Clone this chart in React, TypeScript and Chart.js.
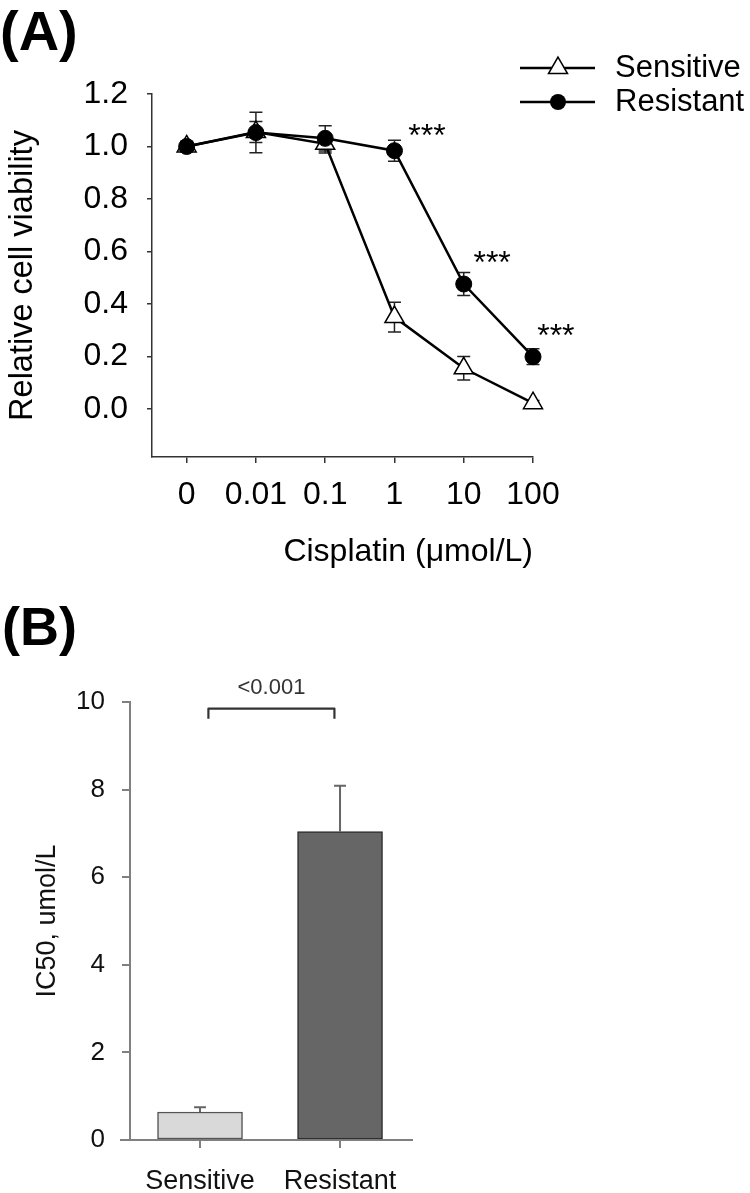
import React, { useEffect, useRef } from 'react';
import { Chart, registerables } from 'chart.js';

Chart.register(...registerables);

const FONT = '"Liberation Sans", Arial, Helvetica, sans-serif';

// ---------- Panel A data ----------
const doseLabels = ['0', '0.01', '0.1', '1', '10', '100'];
const doseIndex = [0, 1, 2, 3, 4, 5];
const sensitiveMean = [1.0, 1.055, 1.01, 0.35, 0.155, 0.022];
const sensitiveErr = [0.02, 0.04, 0.035, 0.057, 0.045, 0.01];
const resistantMean = [1.0, 1.053, 1.031, 0.984, 0.476, 0.199];
const resistantErr = [0.015, 0.077, 0.048, 0.04, 0.044, 0.03];
const viabilityTicks = [0, 0.2, 0.4, 0.6, 0.8, 1.0, 1.2];
const starX = [3.47, 4.41, 5.33];
const starY = [1.07, 0.587, 0.309];
const starText = '***';
const seriesNames = ['Sensitive', 'Resistant'];

// ---------- Panel B data ----------
const cellLines = ['Sensitive', 'Resistant'];
const ic50Mean = [0.64, 7.04];
const ic50Err = [0.11, 1.05];
const ic50Ticks = [0, 2, 4, 6, 8, 10];
const pValueText = '<0.001';
const bracketFrom = 0.06;
const bracketTo = 0.96;
const bracketLevel = 9.85;
const bracketDrop = 0.23;

function drawTriangle(ctx: any, cx: number, cy: number, r: number) {
  ctx.beginPath();
  ctx.moveTo(cx, cy - r);
  ctx.lineTo(cx + r * Math.sin((2 * Math.PI) / 3), cy - r * Math.cos((2 * Math.PI) / 3));
  ctx.lineTo(cx + r * Math.sin((4 * Math.PI) / 3), cy - r * Math.cos((4 * Math.PI) / 3));
  ctx.closePath();
  ctx.fillStyle = '#fff';
  ctx.fill();
  ctx.lineWidth = 1.5;
  ctx.strokeStyle = '#000';
  ctx.stroke();
}

function drawCircle(ctx: any, cx: number, cy: number, r: number) {
  ctx.beginPath();
  ctx.arc(cx, cy, r, 0, Math.PI * 2);
  ctx.fillStyle = '#000';
  ctx.fill();
}

const errorBarsA = {
  id: 'errorBarsA',
  beforeDatasetsDraw(chart: any) {
    const { ctx } = chart;
    const x = chart.scales.x;
    const y = chart.scales.y;
    ctx.save();
    ctx.strokeStyle = '#222';
    ctx.lineWidth = 1.5;
    const series: [number[], number[]][] = [
      [sensitiveMean, sensitiveErr],
      [resistantMean, resistantErr],
    ];
    series.forEach(([m, e]) => {
      doseIndex.forEach((d, i) => {
        const px = x.getPixelForValue(d);
        const top = y.getPixelForValue(m[i] + e[i]);
        const bot = y.getPixelForValue(m[i] - e[i]);
        ctx.beginPath();
        ctx.moveTo(px, top);
        ctx.lineTo(px, bot);
        ctx.moveTo(px - 6.5, top);
        ctx.lineTo(px + 6.5, top);
        ctx.moveTo(px - 6.5, bot);
        ctx.lineTo(px + 6.5, bot);
        ctx.stroke();
      });
    });
    ctx.restore();
  },
};

const annotationsA = {
  id: 'annotationsA',
  afterDraw(chart: any) {
    const { ctx } = chart;
    const x = chart.scales.x;
    const y = chart.scales.y;
    ctx.save();
    // significance stars
    ctx.fillStyle = '#000';
    ctx.font = `32px ${FONT}`;
    ctx.textAlign = 'center';
    ctx.textBaseline = 'alphabetic';
    starX.forEach((sx, i) => {
      ctx.fillText(starText, x.getPixelForValue(sx), y.getPixelForValue(starY[i]) + 18);
    });
    // legend
    const rows = [68, 102];
    rows.forEach((ry, i) => {
      ctx.beginPath();
      ctx.moveTo(520, ry);
      ctx.lineTo(595, ry);
      ctx.lineWidth = 2.5;
      ctx.strokeStyle = '#000';
      ctx.stroke();
      if (i === 0) drawTriangle(ctx, 558, ry, 11);
      else drawCircle(ctx, 558, ry, 8);
      ctx.fillStyle = '#000';
      ctx.font = `31px ${FONT}`;
      ctx.textAlign = 'left';
      ctx.textBaseline = 'middle';
      ctx.fillText(seriesNames[i], 615, ry);
    });
    // panel label
    ctx.font = `bold 56px ${FONT}`;
    ctx.textAlign = 'left';
    ctx.textBaseline = 'alphabetic';
    ctx.fillStyle = '#000';
    ctx.fillText('(A)', 0, 50);
    ctx.restore();
  },
};

const errorBarsB = {
  id: 'errorBarsB',
  afterDatasetsDraw(chart: any) {
    const { ctx } = chart;
    const x = chart.scales.x;
    const y = chart.scales.y;
    ctx.save();
    ctx.strokeStyle = '#666';
    ctx.lineWidth = 2;
    cellLines.forEach((_, i) => {
      const px = x.getPixelForValue(i);
      const base = y.getPixelForValue(ic50Mean[i]);
      const top = y.getPixelForValue(ic50Mean[i] + ic50Err[i]);
      ctx.beginPath();
      ctx.moveTo(px, base);
      ctx.lineTo(px, top);
      ctx.moveTo(px - 6, top);
      ctx.lineTo(px + 6, top);
      ctx.stroke();
    });
    ctx.restore();
  },
};

const annotationsB = {
  id: 'annotationsB',
  afterDraw(chart: any) {
    const { ctx, chartArea } = chart;
    const x = chart.scales.x;
    const y = chart.scales.y;
    ctx.save();
    // x-axis stub extending left of y axis
    ctx.strokeStyle = '#808080';
    ctx.lineWidth = 2;
    ctx.beginPath();
    ctx.moveTo(chartArea.left - 10, chartArea.bottom);
    ctx.lineTo(chartArea.left, chartArea.bottom);
    ctx.stroke();
    // bracket
    const x1 = x.getPixelForValue(bracketFrom);
    const x2 = x.getPixelForValue(bracketTo);
    const yb = y.getPixelForValue(bracketLevel);
    const yl = y.getPixelForValue(bracketLevel - bracketDrop);
    ctx.strokeStyle = '#333';
    ctx.lineWidth = 2.2;
    ctx.lineJoin = 'round';
    ctx.beginPath();
    ctx.moveTo(x1, yl);
    ctx.lineTo(x1, yb);
    ctx.lineTo(x2, yb);
    ctx.lineTo(x2, yl);
    ctx.stroke();
    ctx.fillStyle = '#333';
    ctx.font = `22px ${FONT}`;
    ctx.textAlign = 'center';
    ctx.textBaseline = 'alphabetic';
    ctx.fillText(pValueText, (x1 + x2) / 2, yb - 15);
    // panel label
    ctx.font = `bold 54px ${FONT}`;
    ctx.textAlign = 'left';
    ctx.fillStyle = '#000';
    ctx.fillText('(B)', 2, 45);
    ctx.restore();
  },
};

export default function App() {
  const refA = useRef<HTMLCanvasElement | null>(null);
  const refB = useRef<HTMLCanvasElement | null>(null);

  useEffect(() => {
    if (!refA.current || !refB.current) return;

    const chartA = new Chart(refA.current, {
      type: 'line',
      data: {
        datasets: [
          {
            label: 'Resistant',
            data: doseIndex.map((d, i) => ({ x: d, y: resistantMean[i] })),
            borderColor: '#000',
            borderWidth: 2.5,
            pointStyle: 'circle',
            pointRadius: 8,
            pointBackgroundColor: '#000',
            pointBorderColor: '#000',
            pointBorderWidth: 1,
            tension: 0,
            clip: false,
            order: 0,
          },
          {
            label: 'Sensitive',
            data: doseIndex.map((d, i) => ({ x: d, y: sensitiveMean[i] })),
            borderColor: '#000',
            borderWidth: 2.5,
            pointStyle: 'triangle',
            pointRadius: 11,
            pointBackgroundColor: '#fff',
            pointBorderColor: '#000',
            pointBorderWidth: 1.5,
            tension: 0,
            clip: false,
            order: 1,
          },
        ],
      } as any,
      options: {
        responsive: false,
        animation: false,
        devicePixelRatio: 1,
        layout: { padding: { left: 0, right: 217, top: 94, bottom: 23 } },
        plugins: { legend: { display: false }, tooltip: { enabled: false } },
        scales: {
          x: {
            type: 'linear',
            min: -0.5,
            max: 5,
            afterBuildTicks: (s: any) => {
              s.ticks = doseIndex.map((v) => ({ value: v }));
            },
            afterFit: (s: any) => {
              s.height = 120;
            },
            grid: {
              display: true,
              drawOnChartArea: false,
              drawTicks: true,
              tickLength: 6,
              color: '#333',
              lineWidth: 1.5,
            },
            border: { display: true, color: '#333', width: 1.5 },
            ticks: {
              callback: (v: any) => doseLabels[v],
              font: { family: FONT, size: 32 },
              color: '#000',
              padding: 13,
              maxRotation: 0,
              autoSkip: false,
            },
            title: {
              display: true,
              text: 'Cisplatin (\u03bcmol/L)',
              align: 'end',
              font: { family: FONT, size: 32 },
              color: '#000',
              padding: { top: 0, bottom: 6 },
            },
          },
          y: {
            type: 'linear',
            min: -0.183,
            max: 1.2,
            afterBuildTicks: (s: any) => {
              s.ticks = viabilityTicks.map((v) => ({ value: v }));
            },
            afterFit: (s: any) => {
              s.width = 152;
            },
            grid: {
              display: true,
              drawOnChartArea: false,
              drawTicks: true,
              tickLength: 5,
              color: '#333',
              lineWidth: 1.5,
            },
            border: { display: true, color: '#333', width: 1.5 },
            ticks: {
              callback: (v: any) => Number(v).toFixed(1),
              font: { family: FONT, size: 32 },
              color: '#000',
              padding: 19,
            },
            title: {
              display: true,
              text: 'Relative cell viability',
              font: { family: FONT, size: 32.5 },
              color: '#000',
              padding: { top: 3.5, bottom: 0 },
            },
          },
        },
      } as any,
      plugins: [errorBarsA, annotationsA],
    });

    const chartB = new Chart(refB.current, {
      type: 'bar',
      data: {
        datasets: [
          {
            label: 'IC50',
            data: cellLines.map((_, i) => ({ x: i, y: ic50Mean[i] })),
            backgroundColor: ['#d9d9d9', '#666666'],
            borderColor: ['#555', '#2e2e2e'],
            borderWidth: 1.5,
            borderSkipped: false,
            barThickness: 85,
          },
        ],
      } as any,
      options: {
        responsive: false,
        animation: false,
        devicePixelRatio: 1,
        layout: { padding: { left: 0, right: 338, top: 102, bottom: 0 } },
        plugins: { legend: { display: false }, tooltip: { enabled: false } },
        scales: {
          x: {
            type: 'linear',
            min: -0.5,
            max: 1.514,
            offset: false,
            afterBuildTicks: (s: any) => {
              s.ticks = cellLines.map((_, i) => ({ value: i }));
            },
            afterFit: (s: any) => {
              s.height = 53;
            },
            grid: {
              display: true,
              offset: false,
              drawOnChartArea: false,
              drawTicks: true,
              tickLength: 8,
              color: '#808080',
              lineWidth: 2,
            },
            border: { display: true, color: '#808080', width: 2 },
            ticks: {
              callback: (v: any) => cellLines[v],
              font: { family: FONT, size: 27 },
              color: '#111',
              padding: 17,
              maxRotation: 0,
              autoSkip: false,
            },
          },
          y: {
            type: 'linear',
            min: 0,
            max: 10,
            afterBuildTicks: (s: any) => {
              s.ticks = ic50Ticks.map((v) => ({ value: v }));
            },
            afterFit: (s: any) => {
              s.width = 130;
            },
            grid: {
              display: true,
              drawOnChartArea: false,
              drawTicks: true,
              tickLength: 8,
              color: '#808080',
              lineWidth: 2,
            },
            border: { display: true, color: '#808080', width: 2 },
            ticks: {
              callback: (v: any) => String(v),
              font: { family: FONT, size: 26 },
              color: '#111',
              padding: 17,
            },
            title: {
              display: true,
              text: 'IC50, umol/L',
              font: { family: FONT, size: 27 },
              color: '#111',
              padding: { top: 31.8, bottom: 0 },
            },
          },
        },
      } as any,
      plugins: [errorBarsB, annotationsB],
    });

    return () => {
      chartA.destroy();
      chartB.destroy();
    };
  }, []);

  return (
    <div
      style={{
        position: 'absolute',
        left: 0,
        top: 0,
        width: 750,
        height: 1193,
        background: '#fff',
        overflow: 'hidden',
      }}
    >
      <canvas
        ref={refA}
        width={750}
        height={600}
        style={{ position: 'absolute', left: 0, top: 0, width: 750, height: 600 }}
      />
      <canvas
        ref={refB}
        width={750}
        height={593}
        style={{ position: 'absolute', left: 0, top: 600, width: 750, height: 593 }}
      />
    </div>
  );
}
